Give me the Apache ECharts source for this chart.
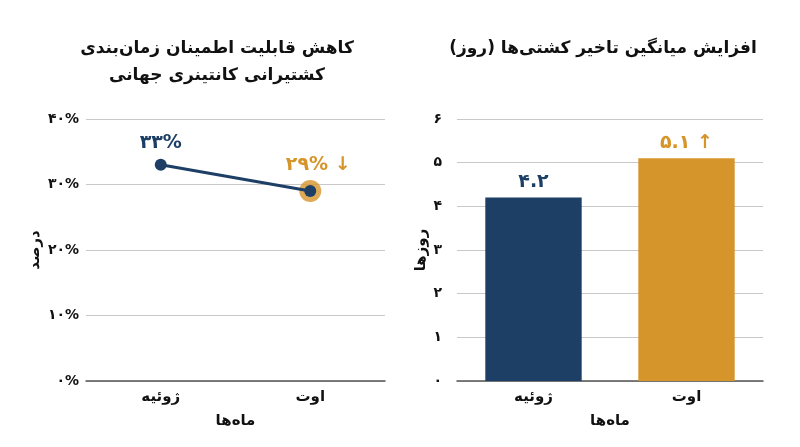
<!DOCTYPE html>
<html>
<head>
<meta charset="utf-8">
<script src="https://cdn.jsdelivr.net/npm/echarts@6/dist/echarts.min.js"></script>
<style>
  html, body { margin: 0; padding: 0; background: #fff; }
  #main { width: 800px; height: 447px; }
</style>
</head>
<body>
<div id="main"></div>
<script>
// داده‌ها
const months = ['ژوئیه', 'اوت'];
const reliability = [33, 29];           // درصد
const delayDays = [4.2, 5.1];           // روز
const pctTicks = [0, 10, 20, 30, 40];
const dayTicks = [0, 1, 2, 3, 4, 5, 6];

const BLUE = '#1d3f66';
const ORANGE = '#d6952a';
const FONT = 'DejaVu Sans';

// اعداد فارسی
const fa = (s) => String(s).replace(/[0-9]/g, d => '۰۱۲۳۴۵۶۷۸۹'[d]);

let chart = echarts.init(document.getElementById('main'), null, {renderer: 'canvas'});

const axisLabel = {color: '#111', fontFamily: FONT, fontWeight: 'bold', fontSize: 14};
const catAxis = (gi) => ({
  type: 'category', gridIndex: gi, data: months,
  axisTick: {show: false},
  axisLine: {lineStyle: {color: '#555', width: 1.5}},
  axisLabel: Object.assign({}, axisLabel, {fontSize: 15, margin: 9}),
  name: 'ماه‌ها', nameLocation: 'middle', nameGap: 33,
  nameTextStyle: {color: '#111', fontFamily: FONT, fontWeight: 'bold', fontSize: 15}
});

const option = {
  animation: false,
  title: [
    {text: 'کاهش قابلیت اطمینان زمان‌بندی\nکشتیرانی کانتینری جهانی', left: 212, top: 30, textAlign: 'center',
     textStyle: {fontFamily: FONT, fontWeight: 'bold', fontSize: 17, color: '#111', lineHeight: 27}},
    {text: 'افزایش میانگین تاخیر کشتی‌ها (روز)', left: 598, top: 35, textAlign: 'center',
     textStyle: {fontFamily: FONT, fontWeight: 'bold', fontSize: 17, color: '#111'}}
  ],
  grid: [
    {left: 86, right: 415, top: 119, bottom: 66},
    {left: 457, right: 37, top: 119, bottom: 66}
  ],
  xAxis: [catAxis(0), catAxis(1)],
  yAxis: [
    {type: 'value', gridIndex: 0, min: pctTicks[0], max: pctTicks[pctTicks.length - 1], interval: 10,
     axisLine: {show: false}, axisTick: {show: false},
     splitLine: {lineStyle: {color: '#c8c8c8'}},
     axisLabel: Object.assign({}, axisLabel, {margin: 7, formatter: v => fa(v) + '%'}),
     name: 'درصد', nameLocation: 'middle', nameGap: 43, nameRotate: 90,
     nameTextStyle: {color: '#111', fontFamily: FONT, fontWeight: 'bold', fontSize: 15}},
    {type: 'value', gridIndex: 1, min: dayTicks[0], max: dayTicks[dayTicks.length - 1], interval: 1,
     axisLine: {show: false}, axisTick: {show: false},
     splitLine: {lineStyle: {color: '#c8c8c8'}},
     axisLabel: Object.assign({}, axisLabel, {margin: 15, formatter: v => fa(v)}),
     name: 'روزها', nameLocation: 'middle', nameGap: 28, nameRotate: 90,
     nameTextStyle: {color: '#111', fontFamily: FONT, fontWeight: 'bold', fontSize: 15}}
  ],
  series: [
    {
      // هاله نارنجی دور نقطه آخر
      type: 'scatter', xAxisIndex: 0, yAxisIndex: 0, z: 1,
      data: [['اوت', reliability[1]]],
      symbolSize: 22, itemStyle: {color: ORANGE}
    },
    {
      type: 'line', xAxisIndex: 0, yAxisIndex: 0, z: 3,
      symbol: 'circle', symbolSize: 12,
      lineStyle: {color: BLUE, width: 3},
      itemStyle: {color: BLUE},
      label: {
        show: true, position: 'top', distance: 6,
        fontFamily: FONT, fontWeight: 'bold', fontSize: 19,
        formatter: p => p.dataIndex === 0 ? fa(p.value) + '%' : fa(p.value) + '% ↓',
        color: BLUE
      },
      data: reliability.map((v, i) => ({
        value: v,
        label: {color: i === 0 ? BLUE : ORANGE, offset: i === 0 ? [0, 0] : [8, -4]}
      }))
    },
    {
      type: 'bar', xAxisIndex: 1, yAxisIndex: 1,
      barWidth: '63%',
      data: delayDays.map((v, i) => ({
        value: v,
        itemStyle: {color: i === 0 ? BLUE : ORANGE},
        label: {color: i === 0 ? BLUE : ORANGE}
      })),
      label: {
        show: true, position: 'top', distance: 6,
        fontFamily: FONT, fontWeight: 'bold', fontSize: 19,
        formatter: p => p.dataIndex === 0 ? fa(p.value.toFixed(1)) : fa(p.value.toFixed(1)) + ' ↑'
      }
    }
  ]
};

chart.setOption(option);
</script>
</body>
</html>
